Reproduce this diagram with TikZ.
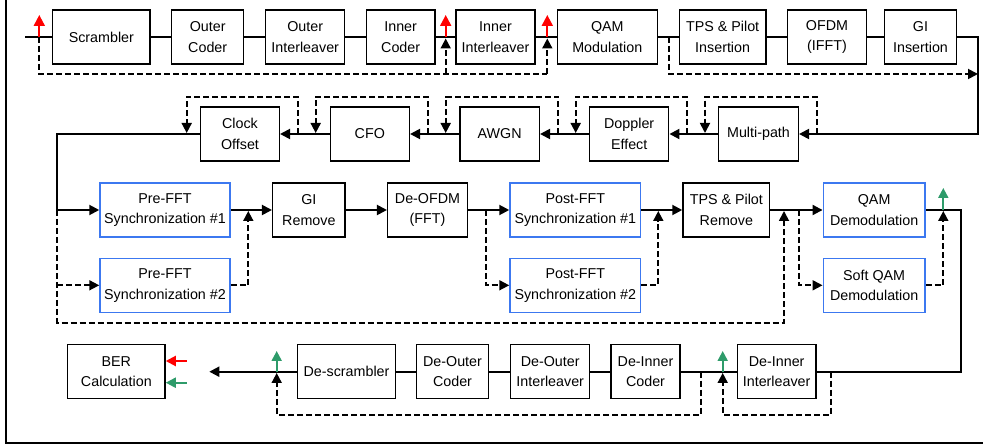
\documentclass[tikz,border=0pt]{standalone}
\usepackage{fontspec}
\setmainfont{Liberation Sans}
\usetikzlibrary{arrows.meta}
\definecolor{bluebox}{RGB}{60,120,240}
\definecolor{grn}{RGB}{46,155,106}
\begin{document}
\begin{tikzpicture}[x=1pt,y=-1pt,
 box/.style={draw,line width=1.5pt,inner sep=0pt,align=center,minimum height=54pt,
   font=\fontsize{14.3}{20.7}\selectfont},
 bbox/.style={box,draw=bluebox},
 sig/.style={line width=2pt},
 dsh/.style={line width=1.8pt,dash pattern=on 6pt off 3pt},
 tip/.style={-{Triangle[length=10pt,width=10pt]}},
 ctip/.style={-{Triangle[length=10pt,width=10pt]},line width=2pt},
]
\useasboundingbox (0,0) rectangle (983,446);
% frame (cropped)
\draw[line width=1.6pt] (6,-5) -- (6,443) -- (990,443);

% ---------- Row 1 ----------
\node[box,minimum width=97.3pt] (s1) at (101.35,37) {Scrambler};
\node[box,minimum width=72pt]   (s2) at (207.7,37) {Outer\\Coder};
\node[box,minimum width=79pt]   (s3) at (305.2,37) {Outer\\Interleaver};
\node[box,minimum width=68.7pt] (s4) at (400.65,37) {Inner\\Coder};
\node[box,minimum width=79pt]   (s5) at (495.5,37) {Inner\\Interleaver};
\node[box,minimum width=100pt]  (s6) at (607.3,37) {QAM\\Modulation};
\node[box,minimum width=86.7pt] (s7) at (722.65,37) {TPS \& Pilot\\Insertion};
\node[box,minimum width=79.4pt] (s8) at (827,37) {OFDM\\(IFFT)};
\node[box,minimum width=72.4pt] (s9) at (920.5,37) {GI\\Insertion};

% ---------- Row 2 ----------
\node[box,minimum width=78.6pt] (r1) at (240,134) {Clock\\Offset};
\node[box,minimum width=79pt]   (r2) at (369.8,134) {CFO};
\node[box,minimum width=79.3pt] (r3) at (499.65,134) {AWGN};
\node[box,minimum width=79pt]   (r4) at (629.2,134) {Doppler\\Effect};
\node[box,minimum width=79.6pt] (r5) at (758.5,134) {Multi-path};

% ---------- Row 3 ----------
\node[bbox,minimum width=130pt]   (p1) at (165,210) {Pre-FFT\\Synchronization \#1};
\node[bbox,minimum width=130pt]   (p2) at (165,285.3) {Pre-FFT\\Synchronization \#2};
\node[box,minimum width=72.3pt]   (g)  at (308.85,210) {GI\\Remove};
\node[box,minimum width=79.6pt]   (d)  at (427.5,210) {De-OFDM\\(FFT)};
\node[bbox,minimum width=130.7pt] (q1) at (575.35,210) {Post-FFT\\Synchronization \#1};
\node[bbox,minimum width=130.7pt] (q2) at (575.35,285.3) {Post-FFT\\Synchronization \#2};
\node[box,minimum width=86.7pt]   (t)  at (726.35,210) {TPS \& Pilot\\Remove};
\node[bbox,minimum width=101.7pt] (m1) at (874.15,210) {QAM\\Demodulation};
\node[bbox,minimum width=101.7pt] (m2) at (874.15,285.3) {Soft QAM\\Demodulation};

% ---------- Row 4 ----------
\node[box,minimum width=97.3pt] (ber) at (116.35,371.7) {BER\\Calculation};
\node[box,minimum width=97.6pt] (ds)  at (346.5,371.7) {De-scrambler};
\node[box,minimum width=71.6pt] (doc) at (452.5,371.7) {De-Outer\\Coder};
\node[box,minimum width=79pt]   (doi) at (550.2,371.7) {De-Outer\\Interleaver};
\node[box,minimum width=69pt]   (dic) at (645.5,371.7) {De-Inner\\Coder};
\node[box,minimum width=78.7pt] (dii) at (776.65,371.7) {De-Inner\\Interleaver};

% ---------- coordinates ----------
\coordinate (in) at (25,37);
\coordinate (ra) at (39.3,37);
\coordinate (rb) at (445.7,37);
\coordinate (rc) at (547.3,37);
\coordinate (qa) at (669,37);
\coordinate (ne) at (978,37);
\coordinate (se) at (978,134);
\coordinate (sa) at (978,74);
\coordinate (wl) at (57.3,134);
\coordinate (wm) at (57.3,210);
\coordinate (ql) at (961,210);
\coordinate (qd) at (961,371.7);
\coordinate (berend) at (209.3,371.7);
\coordinate (ga) at (276.7,371.7);
\coordinate (gb) at (722.7,371.7);

% ---------- Row 1 connectors ----------
\draw[sig] (in) -- (s1.west);
\draw[sig] (s1) -- (s2); \draw[sig] (s2) -- (s3); \draw[sig] (s3) -- (s4);
\draw[sig] (s4) -- (s5); \draw[sig] (s5) -- (s6); \draw[sig] (s6) -- (s7);
\draw[sig] (s7) -- (s8); \draw[sig] (s8) -- (s9);
\draw[sig,tip] (s9.east) -- (ne) -- (se) -- (r5.east);
% bypass loops row 1
\draw[dsh] (ra) -- (39.3,74) -- (547.3,74);
\draw[dsh,tip] (547.3,74) -- (547.3,38.5);
\draw[dsh,tip] (445.7,74) -- (445.7,38.5);
\draw[dsh,tip] (qa) -- (669,74) -- (sa);
% red arrows
\draw[red,sig,-{Triangle[length=11pt,width=11pt]}] (ra) -- (39.3,15);
\draw[red,sig,-{Triangle[length=11pt,width=11pt]}] (rb) -- (445.7,15);
\draw[red,sig,-{Triangle[length=11pt,width=11pt]}] (rc) -- (547.3,15);

% ---------- Row 2 connectors ----------
\draw[sig,tip] (r5.west) -- (r4.east);
\draw[sig,tip] (r4.west) -- (r3.east);
\draw[sig,tip] (r3.west) -- (r2.east);
\draw[sig,tip] (r2.west) -- (r1.east);
\draw[sig,tip] (r1.west) -- (wl) -- (wm) -- (p1.west);
\draw[dsh,tip] (816.7,134) -- (816.7,96.7) -- (705,96.7) -- (705,133);
\draw[dsh,tip] (686.7,134) -- (686.7,96.7) -- (575.7,96.7) -- (575.7,133);
\draw[dsh,tip] (558.3,134) -- (558.3,96.7) -- (445.7,96.7) -- (445.7,133);
\draw[dsh,tip] (427.7,134) -- (427.7,96.7) -- (315.7,96.7) -- (315.7,133);
\draw[dsh,tip] (297.7,134) -- (297.7,96.7) -- (186.7,96.7) -- (186.7,133);

% ---------- Row 3 connectors ----------
\draw[sig,tip] (p1.east) -- (g.west);
\draw[sig,tip] (g.east) -- (d.west);
\draw[sig,tip] (d.east) -- (q1.west);
\draw[sig,tip] (q1.east) -- (t.west);
\draw[sig,tip] (t.east) -- (m1.west);
\draw[sig] (m1.east) -- (ql) -- (qd) -- (dii.east);
\draw[dsh,tip] (wm) -- (57.3,322.7) -- (784,322.7) -- (784,211);
\draw[dsh,tip] (57.3,285.3) -- (p2.west);
\draw[dsh,tip] (p2.east) -- (248.3,285.3) -- (248.3,211);
\draw[dsh,tip] (486,210) -- (486,285.3) -- (q2.west);
\draw[dsh,tip] (q2.east) -- (658.3,285.3) -- (658.3,211);
\draw[dsh,tip] (799.3,210) -- (799.3,285.3) -- (m2.west);
\draw[dsh,tip] (m2.east) -- (943.3,285.3) -- (943.3,211);
\draw[grn,sig,tip] (943.3,210) -- (943.3,188);

% ---------- Row 4 connectors ----------
\draw[sig] (dii.west) -- (dic.east);
\draw[sig] (dic.west) -- (doi.east);
\draw[sig] (doi.west) -- (doc.east);
\draw[sig] (doc.west) -- (ds.east);
\draw[sig,tip] (ds.west) -- (berend);
\draw[dsh,tip] (830.7,371.7) -- (830.7,414.7) -- (722.7,414.7) -- (722.7,373);
\draw[dsh,tip] (701,371.7) -- (701,414.7) -- (276.7,414.7) -- (276.7,373);
\draw[grn,sig,tip] (ga) -- (276.7,351);
\draw[grn,sig,tip] (gb) -- (722.7,351);
\coordinate (bra) at (186.7,361);
\coordinate (bga) at (186.7,382.7);
\draw[red,sig,tip] (bra) -- (ber.east |- bra);
\draw[grn,sig,tip] (bga) -- (ber.east |- bga);
\end{tikzpicture}
\end{document}
